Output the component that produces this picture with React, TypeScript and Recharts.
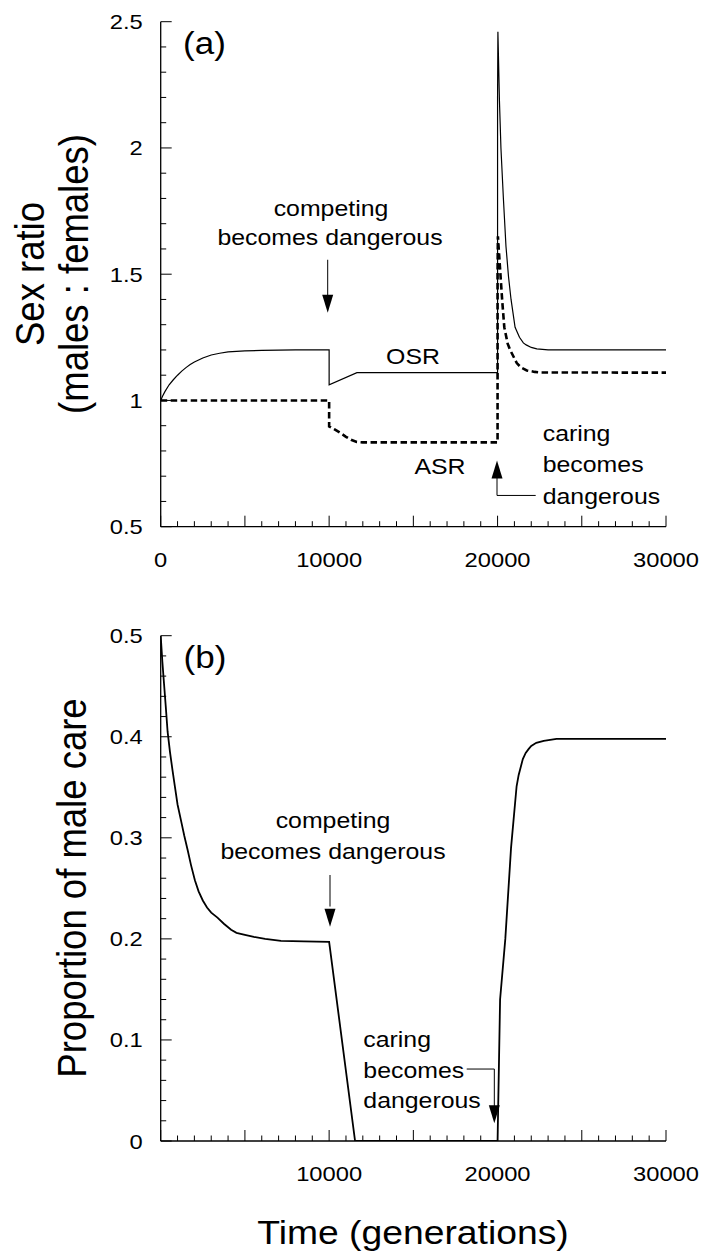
import React from 'react';
import { LineChart, Line, XAxis, YAxis, ReferenceDot, ReferenceLine } from 'recharts';

const FONT = '"Liberation Sans", Arial, Helvetica, sans-serif';
const SX = 1.13;

// ---- Panel (a): sex ratios ----
const osrTime = [0, 100, 250, 500, 750, 1000, 1250, 1500, 1750, 2000, 2500, 3000, 3500, 4000, 4500, 5000, 6000, 7000, 8000, 10000, 10000, 11650, 20000, 20000, 20020, 20110, 20200, 20350, 20500, 20650, 20800, 21040, 21300, 21530, 21700, 22000, 22330, 23000, 30000];
const osrValue = [1.0, 1.016, 1.035, 1.062, 1.082, 1.1, 1.116, 1.13, 1.142, 1.152, 1.168, 1.18, 1.187, 1.192, 1.194, 1.196, 1.198, 1.199, 1.2, 1.2, 1.062, 1.11, 1.11, 2.2, 2.46, 2.19, 2.0, 1.795, 1.61, 1.49, 1.4, 1.29, 1.25, 1.228, 1.22, 1.21, 1.204, 1.2, 1.2];

const asrTime = [0, 10000, 10000, 10300, 10650, 11000, 11300, 11640, 12000, 20000, 20000, 20020, 20140, 20270, 20400, 20600, 20745, 21140, 21400, 21735, 22200, 22520, 30000];
const asrValue = [1.0, 1.0, 0.897, 0.886, 0.872, 0.856, 0.844, 0.836, 0.834, 0.834, 1.5, 1.65, 1.53, 1.4, 1.29, 1.225, 1.2, 1.148, 1.13, 1.119, 1.113, 1.111, 1.11];

// ---- Panel (b): proportion of male care ----
const careTime = [0, 100, 200, 300, 410, 550, 700, 850, 1000, 1220, 1400, 1600, 1800, 2030, 2250, 2500, 2750, 3000, 3370, 3750, 4180, 4500, 5000, 5530, 6200, 7140, 8500, 10000, 11540, 20000, 20150, 20460, 20800, 21130, 21250, 21500, 21670, 21850, 22000, 22300, 22740, 23500, 30000];
const careValue = [0.5, 0.474, 0.452, 0.43, 0.405, 0.385, 0.367, 0.35, 0.333, 0.316, 0.302, 0.288, 0.273, 0.258, 0.247, 0.238, 0.231, 0.226, 0.221, 0.215, 0.209, 0.206, 0.204, 0.202, 0.2, 0.198, 0.1975, 0.197, 0, 0, 0.14, 0.2, 0.29, 0.351, 0.362, 0.378, 0.384, 0.388, 0.391, 0.394, 0.396, 0.398, 0.398];

// ---- tick labels ----
const xLabelsA = [0, 10000, 20000, 30000];
const xLabelsB = [10000, 20000, 30000];
const xMajor = [0, 5000, 10000, 15000, 20000, 25000, 30000];
const yLabelsA = [0.5, 1, 1.5, 2, 2.5];
const yLabelsB = [0, 0.1, 0.2, 0.3, 0.4, 0.5];

const xTicks = Array.from({ length: 31 }, (_, i) => i * 1000);
const yTicksA = Array.from({ length: 21 }, (_, i) => +(0.5 + i * 0.1).toFixed(2));
const yTicksB = Array.from({ length: 26 }, (_, i) => +(i * 0.02).toFixed(2));

const osrData = osrTime.map((t, i) => ({ t, v: osrValue[i] }));
const asrData = asrTime.map((t, i) => ({ t, v: asrValue[i] }));
const careData = careTime.map((t, i) => ({ t, v: careValue[i] }));

const has = (arr: number[], v: number) => arr.some((m) => Math.abs(m - v) < 1e-6);

const SText = ({ x, y, size, anchor = 'start', rotate = false, children }: any) => (
  <g transform={`translate(${x},${y}) scale(${SX},1)${rotate ? ' rotate(-90)' : ''}`}>
    <text x={0} y={0} fontSize={size} fontFamily={FONT} textAnchor={anchor} fill="#000">
      {children}
    </text>
  </g>
);

const TICK_FONT = 21;

const makeYTick = (labels: number[]) => (props: any) => {
  const { x, y, payload } = props;
  const v = payload.value;
  const major = has(labels, v);
  return (
    <g>
      <line x1={x} y1={y} x2={x + (major ? 11 : 5.5)} y2={y} stroke="#000" strokeWidth={1} />
      {major && (
        <SText x={x - 18} y={y + 7.5} size={TICK_FONT} anchor="end">
          {String(v)}
        </SText>
      )}
    </g>
  );
};

const makeXTick = (labels: number[]) => (props: any) => {
  const { x, y, payload } = props;
  const v = payload.value;
  const major = has(xMajor, v);
  return (
    <g>
      <line x1={x} y1={y} x2={x} y2={y - (major ? 11 : 5.5)} stroke="#000" strokeWidth={1} />
      {has(labels, v) && (
        <SText x={x} y={y + 40} size={TICK_FONT} anchor="middle">
          {String(v)}
        </SText>
      )}
    </g>
  );
};

const note = (key: string, x: number, y: number, text: string, size: number, anchor = 'start') => (
  <ReferenceDot
    key={key}
    x={x}
    y={y}
    r={0}
    isFront
    shape={(p: any) => (
      <SText x={p.cx} y={p.cy} size={size} anchor={anchor}>
        {text}
      </SText>
    )}
  />
);

const seg = (key: string, x1: number, y1: number, x2: number, y2: number) => (
  <ReferenceLine key={key} segment={[{ x: x1, y: y1 }, { x: x2, y: y2 }]} stroke="#000" strokeWidth={1} />
);

const head = (key: string, x: number, y: number, dir: 'up' | 'down') => (
  <ReferenceDot
    key={key}
    x={x}
    y={y}
    r={0}
    isFront
    shape={(p: any) => {
      const L = 18;
      const W = 5.5;
      const b = dir === 'down' ? p.cy - L : p.cy + L;
      return <polygon points={`${p.cx},${p.cy} ${p.cx - W},${b} ${p.cx + W},${b}`} fill="#000" />;
    }}
  />
);

const ANN = 22;
const axisLineStyle = { stroke: '#000', strokeWidth: 1.3 };

export default function App() {
  return (
    <div style={{ position: 'absolute', left: 0, top: 0, width: 707, height: 1259, background: '#fff' }}>
      <div style={{ position: 'absolute', left: 0, top: 0 }}>
        <LineChart width={707} height={600} margin={{ top: 21.7, right: 41, bottom: 33.3, left: 100.7 }}>
          <XAxis
            type="number"
            dataKey="t"
            domain={[0, 30000]}
            ticks={xTicks}
            interval={0}
            tickSize={0}
            tickMargin={0}
            tickLine={false}
            axisLine={axisLineStyle}
            tick={makeXTick(xLabelsA)}
            height={40}
            allowDataOverflow
          />
          <YAxis
            type="number"
            dataKey="v"
            domain={[0.5, 2.5]}
            ticks={yTicksA}
            interval={0}
            tickSize={0}
            tickMargin={0}
            tickLine={false}
            axisLine={axisLineStyle}
            tick={makeYTick(yLabelsA)}
            width={60}
            allowDataOverflow
          />
          <Line data={osrData} dataKey="v" type="linear" stroke="#000" strokeWidth={1.2} dot={false} isAnimationActive={false} />
          <Line data={asrData} dataKey="v" type="linear" stroke="#000" strokeWidth={2.6} strokeDasharray="6.5 3.5" dot={false} isAnimationActive={false} />
          {note('a', 1324, 2.373, '(a)', 31)}
          {note('c1', 10111, 1.7315, 'competing', ANN, 'middle')}
          {note('c2', 10052, 1.6154, 'becomes dangerous', ANN, 'middle')}
          {seg('ar1', 9915, 1.5572, 9915, 1.41)}
          {head('ah1', 9915, 1.3473, 'down')}
          {note('osr', 14980, 1.1442, 'OSR', ANN, 'middle')}
          {note('asr', 16583, 0.7097, 'ASR', ANN, 'middle')}
          {note('d1', 22680, 0.8404, 'caring', ANN)}
          {note('d2', 22680, 0.7156, 'becomes', ANN)}
          {note('d3', 22680, 0.5909, 'dangerous', ANN)}
          {seg('l1', 22264, 0.6238, 19967, 0.6238)}
          {seg('l2', 19967, 0.6238, 19967, 0.7)}
          {head('ah2', 19967, 0.7624, 'up')}
        </LineChart>
      </div>
      <div style={{ position: 'absolute', left: 0, top: 600 }}>
        <LineChart width={707} height={659} margin={{ top: 35.7, right: 41, bottom: 78, left: 100.7 }}>
          <XAxis
            type="number"
            dataKey="t"
            domain={[0, 30000]}
            ticks={xTicks}
            interval={0}
            tickSize={0}
            tickMargin={0}
            tickLine={false}
            axisLine={axisLineStyle}
            tick={makeXTick(xLabelsB)}
            height={40}
            allowDataOverflow
          />
          <YAxis
            type="number"
            dataKey="v"
            domain={[0, 0.5]}
            ticks={yTicksB}
            interval={0}
            tickSize={0}
            tickMargin={0}
            tickLine={false}
            axisLine={axisLineStyle}
            tick={makeYTick(yLabelsB)}
            width={60}
            allowDataOverflow
          />
          <Line data={careData} dataKey="v" type="linear" stroke="#000" strokeWidth={1.8} dot={false} isAnimationActive={false} />
          {note('b', 1354, 0.468, '(b)', 31)}
          {note('e1', 10230, 0.3094, 'competing', ANN, 'middle')}
          {note('e2', 10230, 0.2787, 'becomes dangerous', ANN, 'middle')}
          {seg('br1', 10052, 0.2632, 10052, 0.232)}
          {head('bh1', 10052, 0.2121, 'down')}
          {note('f1', 12029, 0.0933, 'caring', ANN)}
          {note('f2', 12029, 0.0626, 'becomes', ANN)}
          {note('f3', 12029, 0.0324, 'dangerous', ANN)}
          {seg('m1', 18168, 0.0712, 19807, 0.0712)}
          {seg('m2', 19807, 0.0712, 19807, 0.034)}
          {head('bh2', 19807, 0.0175, 'down')}
        </LineChart>
      </div>
      <svg width={707} height={1259} style={{ position: 'absolute', left: 0, top: 0, pointerEvents: 'none' }}>
        <SText x={43.5} y={274} size={36.5} anchor="middle" rotate>
          Sex ratio
        </SText>
        <SText x={88} y={274} size={36.5} anchor="middle" rotate>
          (males : females)
        </SText>
        <SText x={86} y={888} size={36.5} anchor="middle" rotate>
          Proportion of male care
        </SText>
        <SText x={413} y={1244} size={33} anchor="middle">
          Time (generations)
        </SText>
      </svg>
    </div>
  );
}
